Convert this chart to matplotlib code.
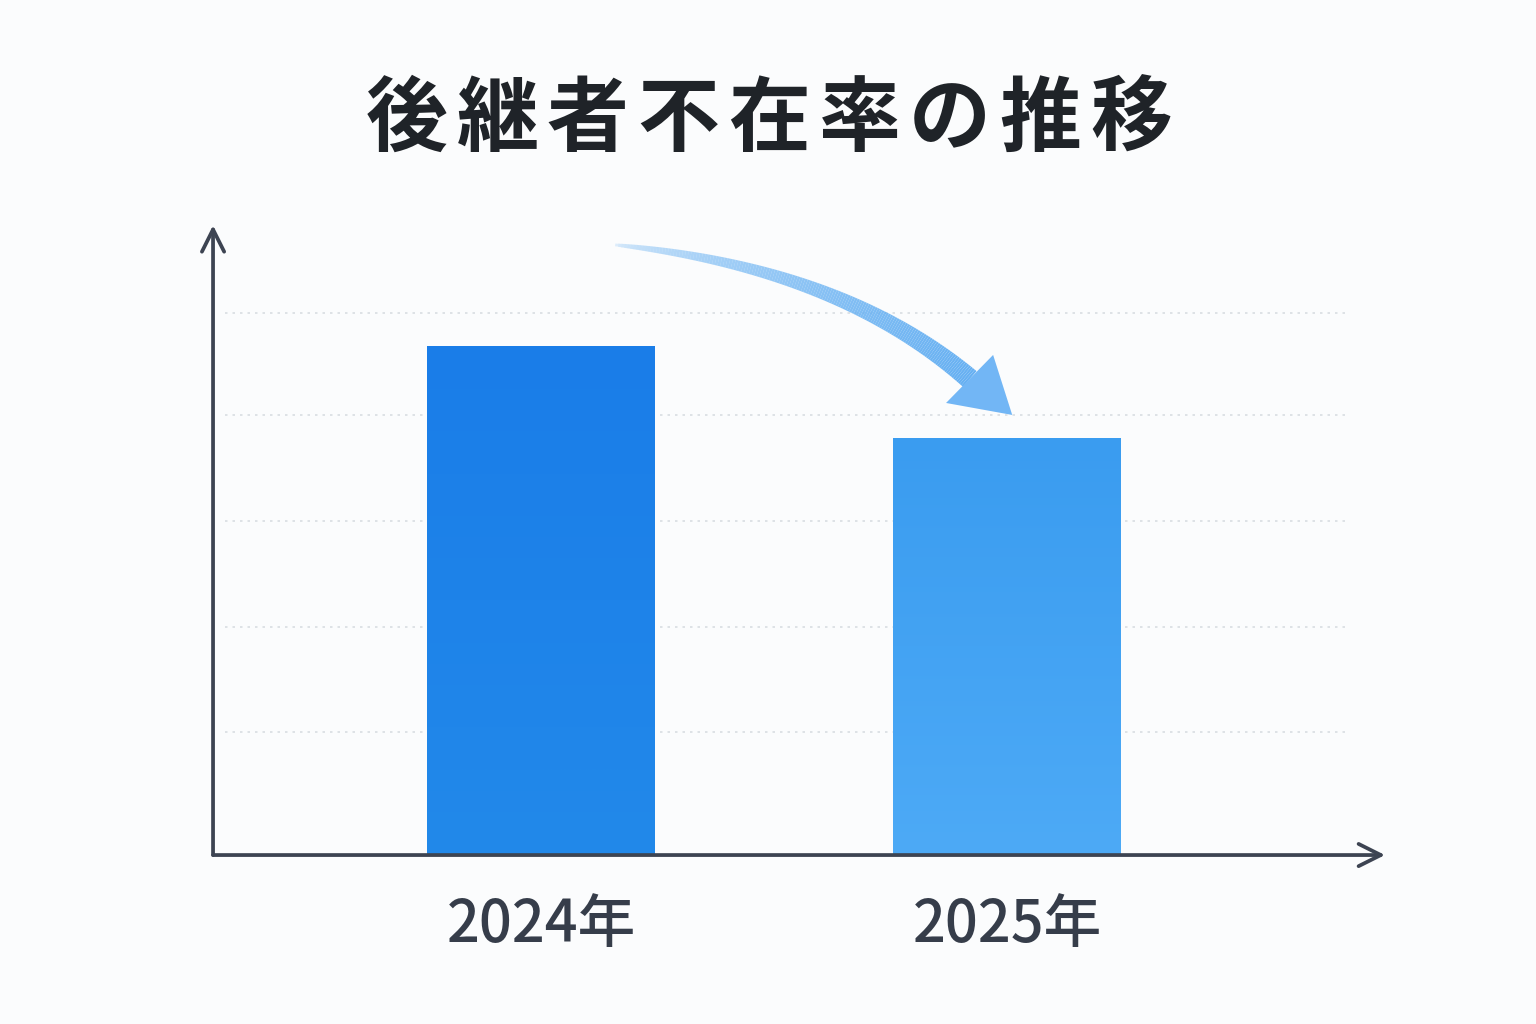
import numpy as np
import matplotlib
matplotlib.use("Agg")
import matplotlib.pyplot as plt
from matplotlib.collections import LineCollection
from matplotlib.patches import Polygon

plt.rcParams['font.family'] = ['Noto Sans CJK JP', 'DejaVu Sans']

title = "後継者不在率の推移"
years = ["2024年", "2025年"]
values = [4.8, 3.93]
top_colors = ["#1a7de8", "#3a9cf0"]
bottom_colors = ["#2289ea", "#4daaf6"]
grid_levels = [1.16, 2.15, 3.15, 4.15, 5.11]

axis_color = "#3d4452"
bg = "#fbfcfd"

fig = plt.figure(figsize=(15.36, 10.24), dpi=100, facecolor=bg)
ax = fig.add_axes([0.1387, 0.165, 0.763, 0.615])
ax.set_facecolor(bg)
ax.set_xlim(-0.704, 1.811)
ax.set_ylim(0, 5.94)
for s in ax.spines.values():
    s.set_visible(False)
ax.set_xticks([])
ax.set_yticks([])

# dotted gridlines
ax.hlines(grid_levels, -0.678, 1.736, colors="#d9dde2", linestyles=(0, (1.5, 3)),
          linewidth=1.2, zorder=1)

# gradient bars
width = 0.489
x = np.arange(len(values))
for xi, v, c1, c2 in zip(x, values, top_colors, bottom_colors):
    bar = ax.bar(xi, v, width=width, color="none", zorder=2)[0]
    rgb1 = np.array(matplotlib.colors.to_rgb(c1))
    rgb2 = np.array(matplotlib.colors.to_rgb(c2))
    t = np.linspace(0, 1, 256)[:, None]
    grad = (rgb1 * (1 - t) + rgb2 * t)[:, None, :]
    im = ax.imshow(grad, extent=[xi - width / 2, xi + width / 2, 0, v],
                   aspect="auto", origin="upper", zorder=2)
    im.set_clip_path(bar)

# axes arrows
for end in [(0, 1.0), (1.0, 0)]:
    ax.annotate("", xy=end, xytext=(0, 0), xycoords="axes fraction",
                arrowprops=dict(arrowstyle="->", color=axis_color, lw=2.7,
                                mutation_scale=40, shrinkA=0, shrinkB=0,
                                capstyle="round", joinstyle="round"), zorder=5)

# curved trend arrow from bar 1 towards bar 2
p0 = np.array([0.159, 5.755])
p1 = np.array([0.642, 5.54])
p2 = np.array([0.920, 4.49])
tt = np.linspace(0, 1, 150)
pts = ((1 - tt)[:, None] ** 2) * p0 + (2 * (1 - tt) * tt)[:, None] * p1 + (tt[:, None] ** 2) * p2
segs = np.stack([pts[:-1], pts[1:]], axis=1)
frac = tt[:-1]
lws = 2.0 + 13.0 * frac ** 0.7
cols = [(0.40, 0.69, 0.95, 0.2 + 0.8 * f ** 0.5) for f in frac]
lc = LineCollection(segs, linewidths=lws, colors=cols, capstyle="butt",
                    joinstyle="round", zorder=4)
ax.add_collection(lc)
head = Polygon([[0.869, 4.264], [1.011, 4.151], [0.970, 4.717]], closed=True,
               facecolor="#72b6f5", edgecolor="none", zorder=4)
ax.add_patch(head)

# category labels
for xi, lab in zip(x, years):
    ax.text(xi, -0.66, lab, ha="center", va="center", fontsize=41.5,
            color="#363d4a", fontweight="medium")

# title with letter spacing
step = 90.5 / 1536
x0 = 407 / 1536
for i, ch in enumerate(title):
    fig.text(x0 + i * step, 1 - 121 / 1024, ch, ha="center", va="center",
             fontsize=59, fontweight="bold", color="#1f2328")

fig.savefig("out.png", dpi=100, facecolor=bg)
